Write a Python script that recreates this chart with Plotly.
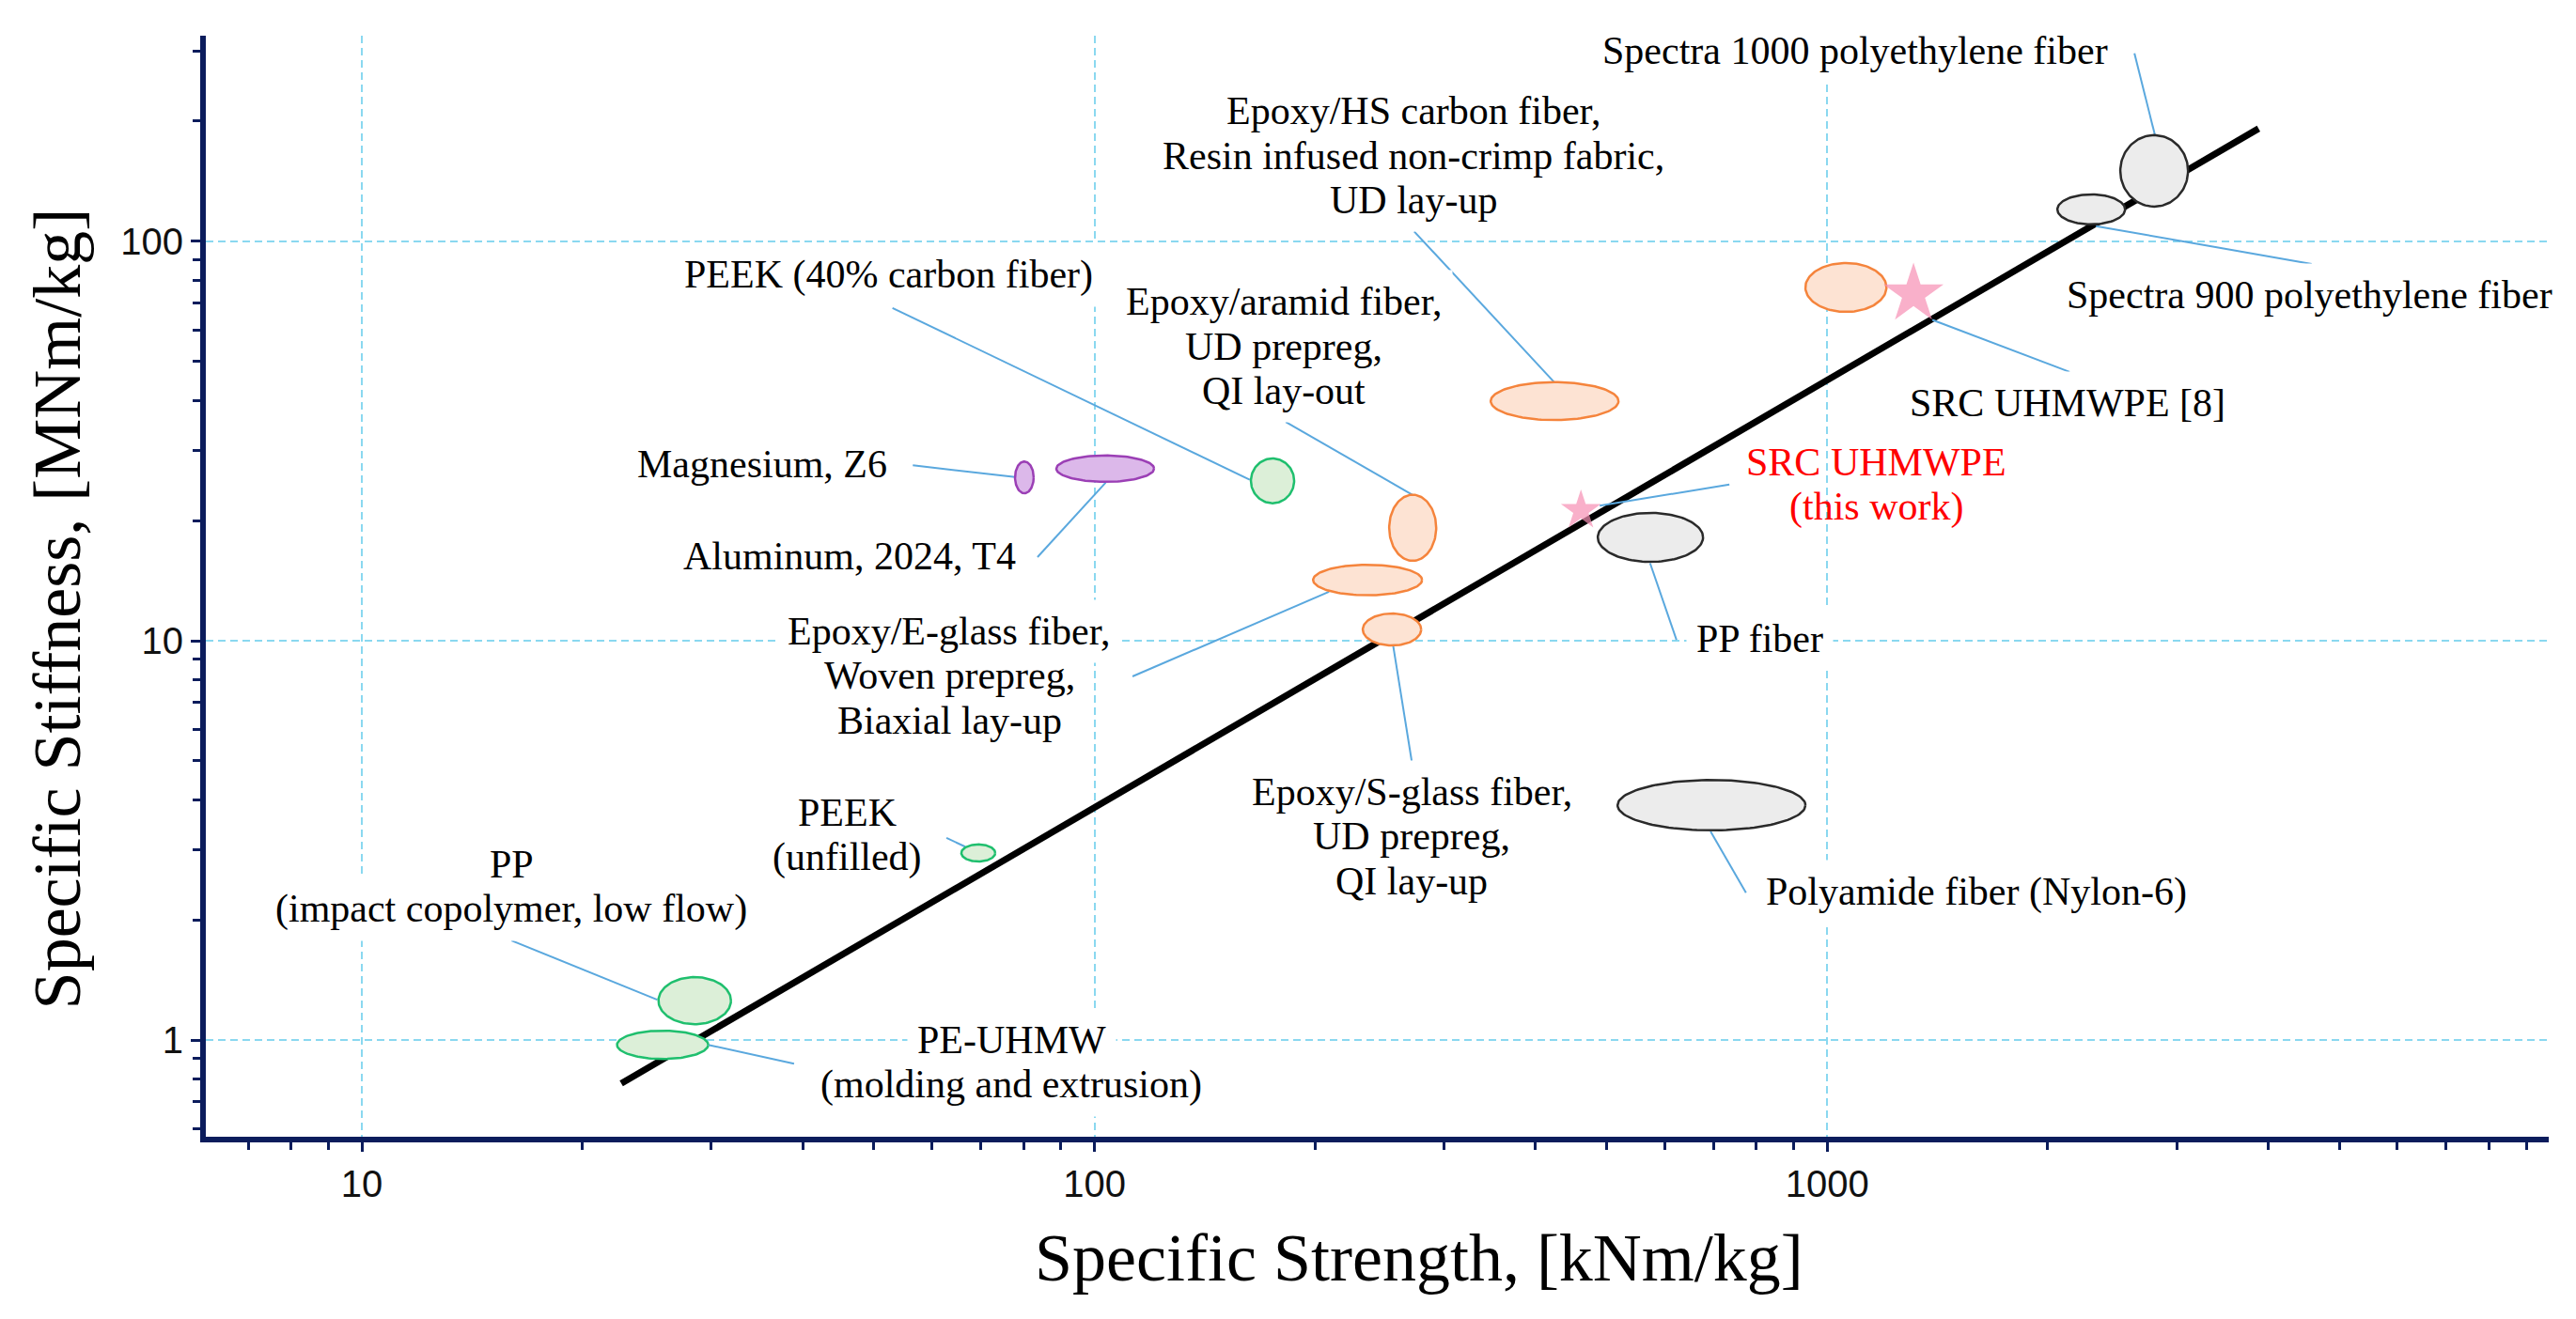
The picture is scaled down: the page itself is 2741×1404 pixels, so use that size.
import numpy as np
import plotly.graph_objects as go

# ---------------- data ----------------
materials = [
    "Magnesium, Z6", "Aluminum, 2024, T4", "PEEK (40% carbon fiber)",
    "Epoxy/aramid fiber", "Epoxy/E-glass fiber", "Epoxy/S-glass fiber",
    "Epoxy/HS carbon fiber", "Composite (unlabelled)", "PP fiber",
    "Spectra 1000 polyethylene fiber", "Spectra 900 polyethylene fiber",
    "Polyamide fiber (Nylon-6)", "PEEK (unfilled)", "PP (impact copolymer, low flow)",
    "PE-UHMW",
]
family = ["metal", "metal", "polymer", "composite", "composite", "composite",
          "composite", "composite", "fiber", "fiber", "fiber", "fiber",
          "polymer", "polymer", "polymer"]
strength_min = [77.9, 88.7, 163.5, 252.5, 198.8, 232.4, 347.4, 934.0, 486.4, 2513, 2062, 517.6, 65.8, 25.4, 22.3]
strength_max = [82.6, 120.6, 187.3, 292.7, 280.0, 279.2, 519.1, 1205.0, 677.1, 3109, 2551, 934.3, 73.2, 31.9, 29.7]
stiffness_min = [23.4, 25.0, 22.1, 15.85, 13.0, 9.73, 35.7, 66.6, 15.76, 122.2, 110.3, 3.35, 2.80, 1.096, 0.897]
stiffness_max = [28.1, 29.1, 28.6, 23.2, 15.5, 11.7, 44.4, 88.3, 20.9, 184.5, 131.1, 4.48, 3.09, 1.438, 1.056]

src_names = ["SRC UHMWPE (this work)", "SRC UHMWPE [8]"]
src_strength = [461.3, 1312]
src_stiffness = [21.2, 73.8]

guide_strength = [22.6, 3881]
guide_stiffness = [0.779, 191.6]

x_ticks = [10, 100, 1000]
y_ticks = [1, 10, 100]

# ---------------- label layout (text position + leader line) ----------------
labels = [
    # text lines, text_x, text_y, leader_from (x,y), leader_to (x,y), color, bg
    (["Spectra 1000 polyethylene fiber"], 1093, 300.4, (2627, 295.6), (2804, 183.6), "black", True),
    (["Epoxy/HS carbon fiber,", "Resin infused non-crimp fabric,", "UD lay-up"], 272.6, 163.8, (273.1, 105.9), (424.2, 44.4), "black", True),
    (["PEEK (40% carbon fiber)"], 52.4, 82.3, (53.0, 68.1), (162.9, 25.3), "black", True),
    (["Epoxy/aramid fiber,", "UD prepreg,", "QI lay-out"], 181.3, 54.5, (182.4, 35.3), (273.9, 23.0), "black", True),
    (["Magnesium, Z6"], 35.2, 27.7, (56.5, 27.5), (77.9, 25.7), "black", True),
    (["Aluminum, 2024, T4"], 46.3, 16.3, (83.6, 16.2), (103.6, 24.9), "black", True),
    (["Epoxy/E-glass fiber,", "Woven prepreg,", "Biaxial lay-up"], 63.4, 8.18, (112.7, 8.14), (209.0, 13.26), "black", True),
    (["PEEK", "(unfilled)"], 46.0, 3.26, (62.8, 3.21), (66.6, 3.05), "black", True),
    (["PP", "(impact copolymer, low flow)"], 16.0, 2.42, (16.0, 1.776), (25.3, 1.262), "black", True),
    (["PE-UHMW", "(molding and extrusion)"], 77.0, 0.878, (38.9, 0.873), (29.7, 0.973), "black", True),
    (["Epoxy/S-glass fiber,", "UD prepreg,", "QI lay-up"], 271.0, 3.24, (271.0, 5.0), (255.5, 9.79), "black", True),
    (["Polyamide fiber (Nylon-6)"], 1600, 2.35, (774.9, 2.34), (693.3, 3.33), "black", True),
    (["PP fiber"], 808.3, 10.1, (622.9, 10.05), (573.3, 15.64), "black", True),
    (["SRC UHMWPE", "(this work)"], 1166, 24.6, (735.6, 24.6), (489.3, 21.8), "#ff0000", False),
    (["SRC UHMWPE [8]"], 2130, 39.4, (2143, 47.1), (1392, 63.6), "black", True),
    (["Spectra 900 polyethylene fiber"], 4550, 73.4, (4586, 87.8), (2328, 109.2), "black", True),
]

# ---------------- styles ----------------
fill_colors = {"metal": "#dcb8ea", "polymer": "#dcefd8", "composite": "#fde3d3", "fiber": "#ececec"}
line_colors = {"metal": "#9b3fb5", "polymer": "#1fbf6e", "composite": "#f5843c", "fiber": "#2a2a2a"}
LABEL_FONT = "Liberation Serif"
LABEL_SIZE = 42
LINE_STEP = 47.5
AXIS_COLOR = "#0b1c5c"
GRID_COLOR = "#8ad8f0"
LEADER_COLOR = "#5aa8de"

fig = go.Figure()

# guide line
fig.add_trace(go.Scatter(x=guide_strength, y=guide_stiffness, mode="lines",
                         line=dict(color="black", width=7), hoverinfo="skip", showlegend=False))

# leader lines
for lines, tx, ty, p0, p1, col, bg in labels:
    fig.add_trace(go.Scatter(x=[p0[0], p1[0]], y=[p0[1], p1[1]], mode="lines",
                             line=dict(color=LEADER_COLOR, width=2), hoverinfo="skip", showlegend=False))

# property ellipses (drawn in log space)
t = np.linspace(0, 2 * np.pi, 121)
for name, fam, sx0, sx1, sy0, sy1 in zip(materials, family, strength_min, strength_max,
                                         stiffness_min, stiffness_max):
    cx = (np.log10(sx0) + np.log10(sx1)) / 2
    rx = (np.log10(sx1) - np.log10(sx0)) / 2
    cy = (np.log10(sy0) + np.log10(sy1)) / 2
    ry = (np.log10(sy1) - np.log10(sy0)) / 2
    ex = 10 ** (cx + rx * np.cos(t))
    ey = 10 ** (cy + ry * np.sin(t))
    fig.add_trace(go.Scatter(x=ex, y=ey, mode="lines", fill="toself",
                             fillcolor=fill_colors[fam],
                             line=dict(color=line_colors[fam], width=2.5),
                             name=name, hoverinfo="name", showlegend=False))

# SRC stars
fig.add_trace(go.Scatter(x=src_strength, y=src_stiffness, mode="markers",
                         marker=dict(symbol="star", size=[32, 48], color="#f78fb3",
                                     line=dict(width=0)),
                         text=src_names, hoverinfo="text", showlegend=False))

# labels: first pass draws white backing boxes, second pass draws the text on top
for pass_no in (0, 1):
    for lines, tx, ty, p0, p1, col, bg in labels:
        if pass_no == 0 and not bg:
            continue
        n = len(lines)
        for i, line in enumerate(lines):
            fig.add_annotation(
                x=np.log10(tx), y=np.log10(ty), xref="x", yref="y", text=line,
                showarrow=False, xanchor="center", yanchor="middle",
                yshift=((n - 1) / 2 - i) * LINE_STEP,
                font=dict(family=LABEL_FONT, size=LABEL_SIZE,
                          color="rgba(0,0,0,0)" if pass_no == 0 else col),
                bgcolor="white" if pass_no == 0 else "rgba(0,0,0,0)",
                borderpad=10)

# axis titles
fig.add_annotation(x=0.518, y=-0.110, xref="paper", yref="paper",
                   text="Specific Strength, [kNm/kg]", showarrow=False,
                   xanchor="center", yanchor="middle",
                   font=dict(family=LABEL_FONT, size=72, color="black"))
fig.add_annotation(x=-0.0634, y=0.480, xref="paper", yref="paper",
                   text="Specific Stiffness, [MNm/kg]", showarrow=False, textangle=-90,
                   xanchor="center", yanchor="middle",
                   font=dict(family=LABEL_FONT, size=72, color="black"))

axis_common = dict(
    type="log", showline=True, linecolor=AXIS_COLOR, linewidth=6, mirror=False,
    ticks="outside", ticklen=10, tickwidth=3, tickcolor=AXIS_COLOR,
    showgrid=True, gridcolor=GRID_COLOR, gridwidth=2, griddash="8px,5px",
    zeroline=False,
    tickfont=dict(family="Liberation Sans", size=40, color="#111"),
    minor=dict(ticks="outside", ticklen=8, tickwidth=3, tickcolor=AXIS_COLOR,
               dtick="D1", showgrid=False),
)

# the page body has an 8px margin, so the figure is 16px smaller and margins shifted
fig.update_layout(
    width=2725, height=1388,
    margin=dict(l=211, r=21, t=30, b=186),
    paper_bgcolor="white", plot_bgcolor="white",
    xaxis=dict(range=[0.787, 3.985], tickvals=x_ticks, ticktext=[str(v) for v in x_ticks], **axis_common),
    yaxis=dict(range=[-0.242, 2.515], tickvals=y_ticks, ticktext=[str(v) for v in y_ticks], **axis_common),
    showlegend=False,
)

fig.write_html("out.html")
